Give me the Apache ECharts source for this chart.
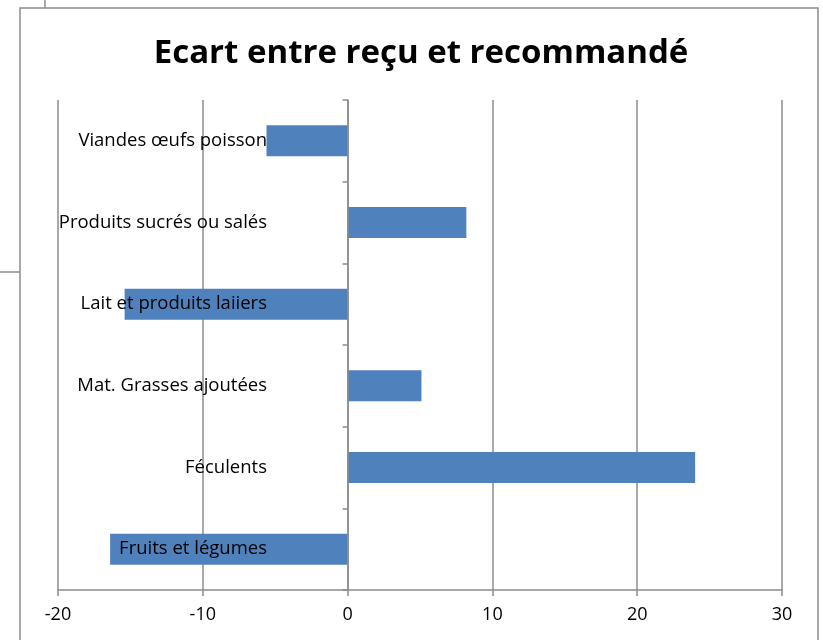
<!DOCTYPE html>
<html>
<head>
<meta charset="utf-8">
<script src="https://cdn.jsdelivr.net/npm/echarts@6/dist/echarts.min.js"></script>
<style>
  html, body { margin: 0; padding: 0; background: #fff; }
  #chart { width: 823px; height: 640px; }
</style>
</head>
<body>
<div id="chart"></div>
<script>
// categories bottom -> top (category axis starts at the bottom)
const categories = [
  'Fruits et légumes',
  'Féculents',
  'Mat. Grasses ajoutées',
  'Lait et produits laiiers',
  'Produits sucrés ou salés',
  'Viandes œufs poisson'
]
const ecart = [-16.4, 24.0, 5.1, -15.4, 8.2, -5.6]
const titleText = 'Ecart entre reçu et recommandé'

const chart = echarts.init(document.getElementById('chart'))
const font = '"Open Sans", Lato, sans-serif'
const gray = '#8c8c8c'

chart.setOption({
  animation: false,
  title: {
    text: titleText,
    left: 416,
    textAlign: 'center',
    top: 32,
    textStyle: { fontFamily: font, fontWeight: 'bold', fontSize: 33, color: '#000' }
  },
  // sheet frame + stray cell lines around the chart
  graphic: [
    { type: 'rect', shape: { x: 20, y: 8, width: 798, height: 700 }, style: { fill: 'transparent', stroke: gray, lineWidth: 1.5 }, z: -1 },
    { type: 'line', shape: { x1: 45, y1: 0, x2: 45, y2: 8 }, style: { stroke: gray, lineWidth: 1.5 } },
    { type: 'line', shape: { x1: 0, y1: 272, x2: 20, y2: 272 }, style: { stroke: gray, lineWidth: 1.5 } }
  ],
  grid: { left: 58, right: 41, top: 100, bottom: 50, outerBoundsMode: 'none' },
  xAxis: {
    type: 'value',
    min: -20,
    max: 30,
    interval: 10,
    axisLine: { show: true, lineStyle: { color: gray, width: 1.5 } },
    axisTick: { show: true, length: 6, lineStyle: { color: gray, width: 1.5 } },
    axisLabel: { margin: 16, fontFamily: font, fontSize: 18, color: '#000' },
    splitLine: { show: true, lineStyle: { color: gray, width: 1.5 } }
  },
  yAxis: [{
    // axis line + ticks at zero
    type: 'category',
    data: categories,
    z: 5,
    axisLine: { onZero: true, lineStyle: { color: gray, width: 1.5 } },
    axisTick: { show: true, length: 5, lineStyle: { color: gray, width: 1.5 } },
    axisLabel: { show: false }
  }, {
    // labels only, right-aligned at x=267 (drawn over the bars like Excel)
    type: 'category',
    data: categories,
    position: 'left',
    offset: -209,
    z: 6,
    axisLine: { show: false, onZero: false },
    axisTick: { show: false },
    axisLabel: { show: true, margin: 0, fontFamily: font, fontSize: 18.5, color: '#000' }
  }],
  series: [{
    type: 'bar',
    data: ecart,
    barWidth: '38%',
    itemStyle: { color: '#4f81bd' }
  }]
})
</script>
</body>
</html>
